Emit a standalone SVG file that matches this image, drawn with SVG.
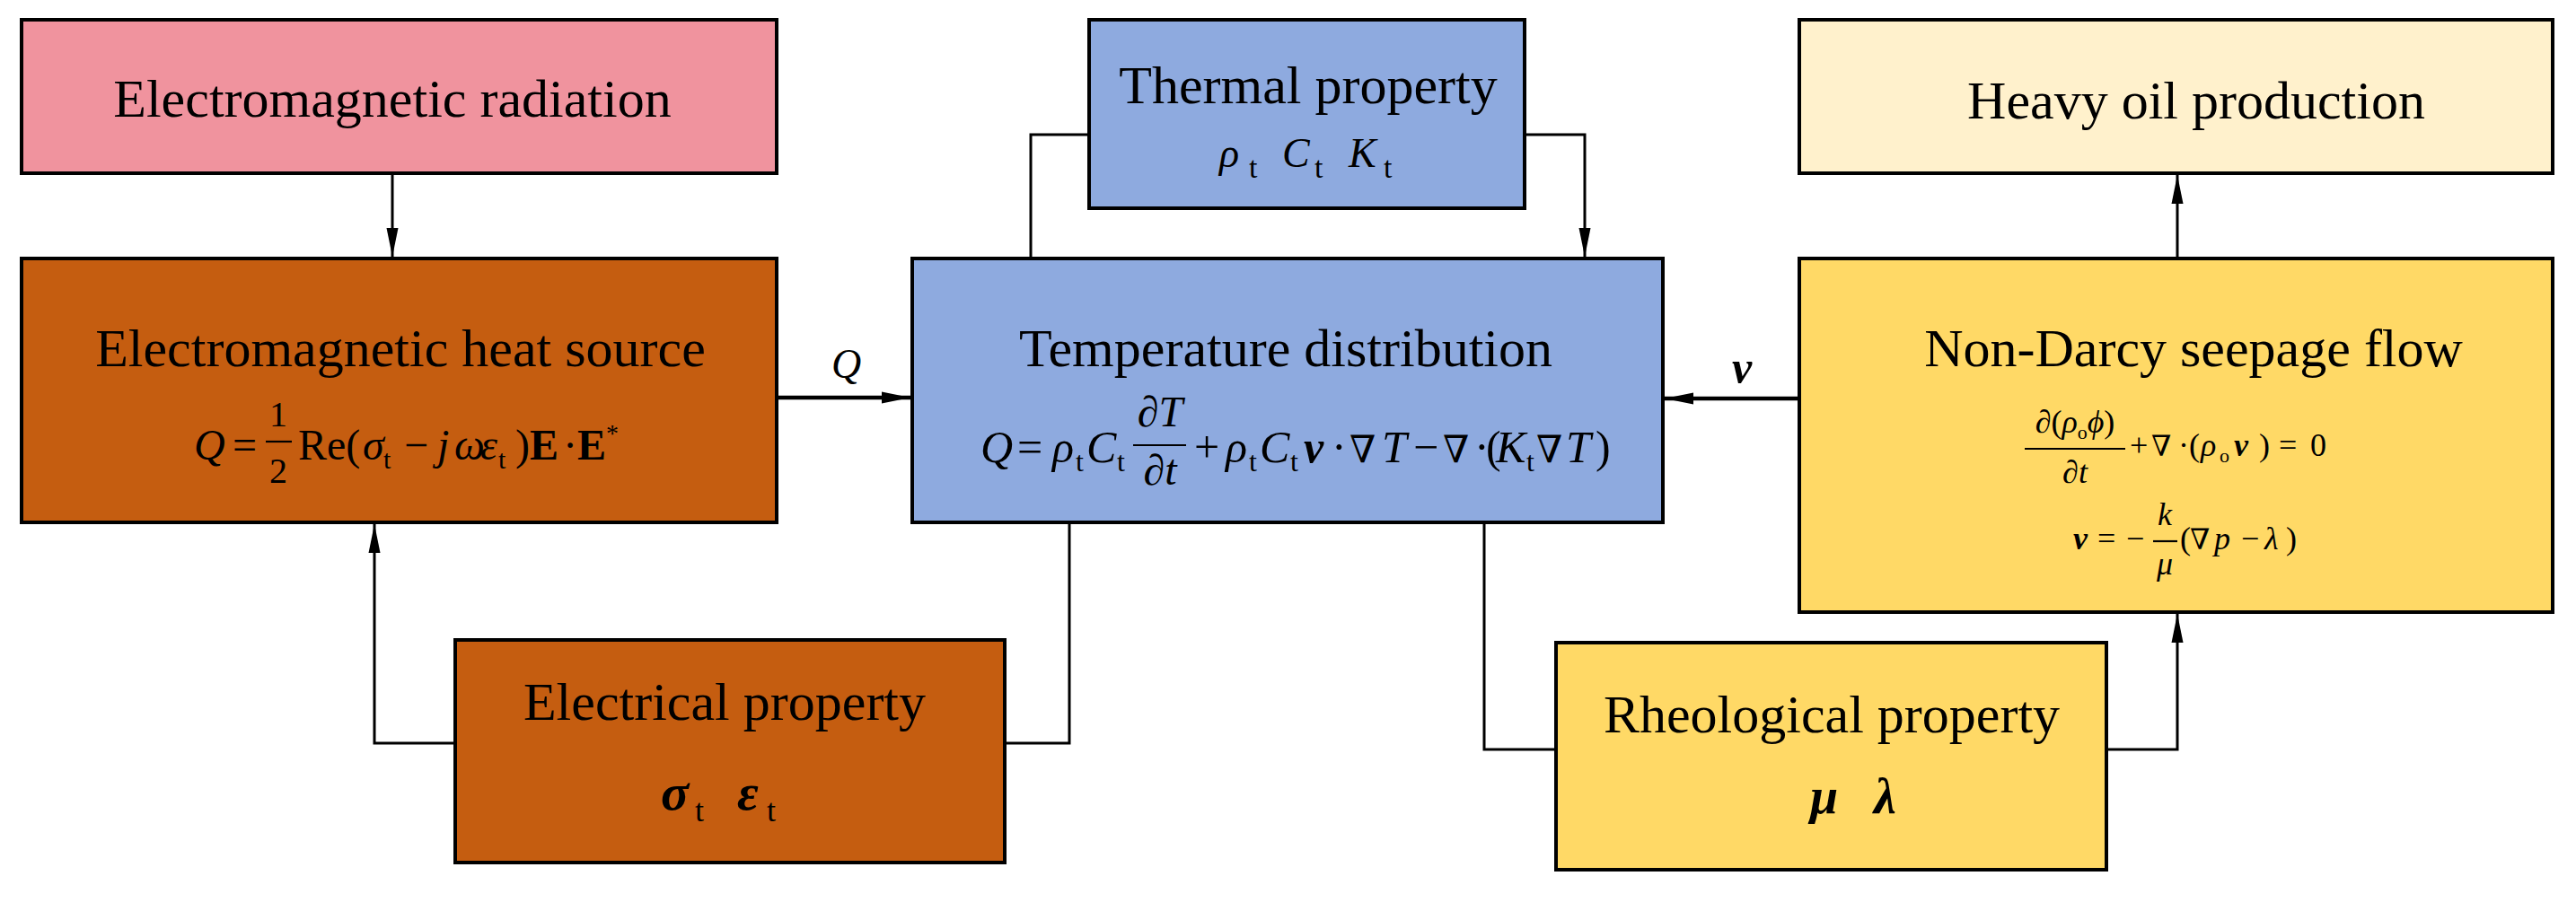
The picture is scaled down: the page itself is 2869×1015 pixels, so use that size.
<svg xmlns="http://www.w3.org/2000/svg" width="2869" height="1015" viewBox="0 0 2869 1015">
<defs>
<style>
.box{stroke:#000;stroke-width:4}
.t{font-family:"Liberation Serif","Times New Roman",serif;font-size:60px;text-anchor:middle;fill:#000}
.m{font-family:"Liberation Serif","DejaVu Serif","Times New Roman",serif;fill:#000}
.i{font-style:italic}
.b{font-weight:bold}
.c{text-anchor:middle}
.ln{fill:none;stroke:#000;stroke-width:3}
.lnb{fill:none;stroke:#000;stroke-width:4.5}
.fr{stroke:#000;stroke-width:2.2}
</style>
<marker id="ah" markerUnits="userSpaceOnUse" markerWidth="34" markerHeight="14" refX="32" refY="7" orient="auto">
<path d="M0,0.5 L32,7 L0,13.5 Z" fill="#000"/>
</marker>
</defs>
<rect width="2869" height="1015" fill="#fff"/>

<g id="node-radiation">
<rect class="box" x="24" y="22" width="841" height="171" fill="#F0939E"/>
<text class="t" x="437" y="130">Electromagnetic radiation</text>
</g>

<g id="node-heat-source">
<rect class="box" x="24" y="288" width="841" height="294" fill="#C55D10"/>
<text class="t" x="446" y="408">Electromagnetic heat source</text>
<text class="m" font-size="48" y="512"><tspan class="i" x="216">Q</tspan><tspan x="259">=</tspan><tspan x="332">Re(</tspan><tspan class="i" x="404">σ</tspan><tspan x="427" y="522" font-size="30">t</tspan><tspan x="450" y="512">−</tspan><tspan class="i" x="487">j</tspan><tspan class="i" x="506">ω</tspan><tspan class="i" x="535">ε</tspan><tspan x="555" y="522" font-size="30">t</tspan><tspan x="574" y="512">)</tspan><tspan class="b" x="590">E</tspan><tspan x="627">·</tspan><tspan class="b" x="643">E</tspan><tspan x="675" y="492" font-size="28">*</tspan></text>
<text class="m c" font-size="40" x="310" y="475">1</text>
<line class="fr" x1="296" y1="492" x2="325" y2="492"/>
<text class="m c" font-size="40" x="310" y="538">2</text>
</g>

<g id="node-thermal">
<rect class="box" x="1213" y="22" width="485" height="210" fill="#8EAADF"/>
<text class="t" x="1457" y="115">Thermal property</text>
<text class="m" font-size="46" y="186"><tspan class="i" x="1358">ρ</tspan><tspan x="1391" y="198" font-size="34">t</tspan><tspan class="i" x="1428" y="186">C</tspan><tspan x="1464" y="198" font-size="34">t</tspan><tspan class="i" x="1502" y="186">K</tspan><tspan x="1541" y="198" font-size="34">t</tspan></text>
</g>

<g id="node-temperature">
<rect class="box" x="1016" y="288" width="836" height="294" fill="#8EAADF"/>
<text class="t" x="1432" y="408">Temperature distribution</text>
<text class="m" font-size="50" y="515"><tspan class="i" x="1092">Q</tspan><tspan x="1133">=</tspan><tspan class="i" x="1172">ρ</tspan><tspan x="1198" y="525" font-size="32">t</tspan><tspan class="i" x="1210" y="515">C</tspan><tspan x="1244" y="525" font-size="32">t</tspan><tspan x="1330" y="515">+</tspan><tspan class="i" x="1365">ρ</tspan><tspan x="1391" y="525" font-size="32">t</tspan><tspan class="i" x="1403" y="515">C</tspan><tspan x="1437" y="525" font-size="32">t</tspan><tspan class="i b" x="1452" y="515">v</tspan><tspan x="1483">·</tspan><tspan x="1503" font-size="42">∇</tspan><tspan class="i" x="1539">T</tspan><tspan x="1574">−</tspan><tspan x="1607" font-size="42">∇</tspan><tspan x="1642">·</tspan><tspan x="1655">(</tspan><tspan class="i" x="1666">K</tspan><tspan x="1700" y="525" font-size="32">t</tspan><tspan x="1711" y="515" font-size="42">∇</tspan><tspan class="i" x="1744">T</tspan><tspan x="1777">)</tspan></text>
<text class="m c" font-size="48" x="1292" y="475">∂<tspan class="i">T</tspan></text>
<line class="fr" x1="1262" y1="496" x2="1321" y2="496"/>
<text class="m c" font-size="48" x="1292" y="540">∂<tspan class="i">t</tspan></text>
</g>

<g id="node-heavy-oil">
<rect class="box" x="2004" y="22" width="839" height="171" fill="#FFF1CC"/>
<text class="t" x="2446" y="132">Heavy oil production</text>
</g>

<g id="node-seepage">
<rect class="box" x="2004" y="288" width="839" height="394" fill="#FFD966"/>
<text class="t" x="2443" y="408">Non-Darcy seepage flow</text>
<text class="m c" font-size="36" x="2311" y="482">∂(<tspan class="i">ρ</tspan><tspan font-size="22" dy="7">o</tspan><tspan class="i" dy="-7">ϕ</tspan>)</text>
<line class="fr" x1="2255" y1="500" x2="2367" y2="500"/>
<text class="m c" font-size="36" x="2311" y="538">∂<tspan class="i">t</tspan></text>
<text class="m" font-size="36" y="508"><tspan x="2372">+</tspan><tspan x="2396" font-size="32">∇</tspan><tspan x="2426">·</tspan><tspan x="2438">(</tspan><tspan class="i" x="2451">ρ</tspan><tspan x="2472" y="515" font-size="22">o</tspan><tspan class="i b" x="2488" y="508">v</tspan><tspan x="2516">)</tspan><tspan x="2538">=</tspan><tspan x="2573">0</tspan></text>
<text class="m" font-size="36" y="612"><tspan class="i b" x="2309">v</tspan><tspan x="2336">=</tspan><tspan x="2368">−</tspan><tspan x="2428">(</tspan><tspan x="2439" font-size="32">∇</tspan><tspan class="i" x="2466">p</tspan><tspan x="2496">−</tspan><tspan class="i" x="2522">λ</tspan><tspan x="2546">)</tspan></text>
<text class="m c i" font-size="36" x="2411" y="585">k</text>
<line class="fr" x1="2398" y1="603" x2="2425" y2="603"/>
<text class="m c i" font-size="36" x="2411" y="640">μ</text>
</g>

<g id="node-electrical">
<rect class="box" x="507" y="713" width="612" height="248" fill="#C55D10"/>
<text class="t" x="807" y="802">Electrical property</text>
<text class="m b i" font-size="58" y="902"><tspan x="736">σ</tspan><tspan x="774" y="915" font-size="36" font-style="normal" font-weight="normal">t</tspan><tspan x="821" y="902">ε</tspan><tspan x="854" y="915" font-size="36" font-style="normal" font-weight="normal">t</tspan></text>
</g>

<g id="node-rheological">
<rect class="box" x="1733" y="716" width="613" height="253" fill="#FFD966"/>
<text class="t" x="2040" y="816">Rheological property</text>
<text class="m b i" font-size="56" y="906"><tspan x="2016">μ</tspan><tspan x="2087">λ</tspan></text>
</g>

<g id="connectors">
<line class="ln" x1="437" y1="193" x2="437" y2="286" marker-end="url(#ah)"/>
<line class="lnb" x1="865" y1="443" x2="1014" y2="443" marker-end="url(#ah)"/>
<polyline class="ln" points="1213,150 1148,150 1148,288"/>
<polyline class="ln" points="1698,150 1765,150 1765,286" marker-end="url(#ah)"/>
<line class="lnb" x1="2004" y1="444" x2="1854" y2="444" marker-end="url(#ah)"/>
<line class="ln" x1="2425" y1="288" x2="2425" y2="195" marker-end="url(#ah)"/>
<polyline class="ln" points="1191,582 1191,828 1119,828"/>
<polyline class="ln" points="507,828 417,828 417,584" marker-end="url(#ah)"/>
<polyline class="ln" points="1653,582 1653,835 1733,835"/>
<polyline class="ln" points="2346,835 2425,835 2425,684" marker-end="url(#ah)"/>
<text class="m i" font-size="46" x="926" y="421">Q</text>
<text class="m i b" font-size="50" x="1929" y="426">v</text>
</g>
</svg>
